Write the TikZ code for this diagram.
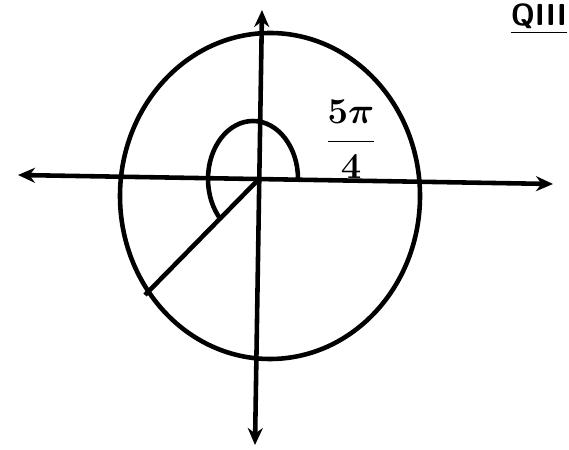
\documentclass[tikz,border=0pt]{standalone}
\usepackage{amsmath,amssymb}
\usepackage{bm}
\usepackage{tikz}
\usetikzlibrary{arrows.meta}
\tikzset{
  ax/.style={line width=2.6pt,{Stealth[length=3.4mm,width=3mm]}-{Stealth[length=3.4mm,width=3mm]}},
  crc/.style={line width=2.6pt},
  term/.style={line width=2.6pt},
  ang/.style={line width=2.6pt}
}
\begin{document}
\begin{tikzpicture}
\useasboundingbox (0,0) rectangle (11.38,8.98);
\coordinate (O) at (5.16,5.38);
\coordinate (xl) at (0.36,5.48); \coordinate (xr) at (11.06,5.30);
\coordinate (yt) at (5.24,8.78); \coordinate (yb) at (5.10,0.08);
\coordinate (P) at (2.90,3.08);
\draw[ax] (xl) -- (xr);
\draw[ax] (yt) -- (yb);
\draw[crc] (5.40,5.06) ellipse [x radius=3.0,y radius=3.26];
\draw[term] (O) -- (P);
\draw[ang] (5.96,5.40) arc [start angle=0,end angle=225,x radius=0.90,y radius=1.16];
\node[font=\huge,inner sep=0pt] (lbl) at (7.02,6.20) {$\bm{\dfrac{5\pi}{4}}$};
\node[anchor=south east,inner sep=1pt,font=\sffamily\bfseries\LARGE] (quad) at (11.38,8.25) {\underline{QIII}};
\end{tikzpicture}
\end{document}
